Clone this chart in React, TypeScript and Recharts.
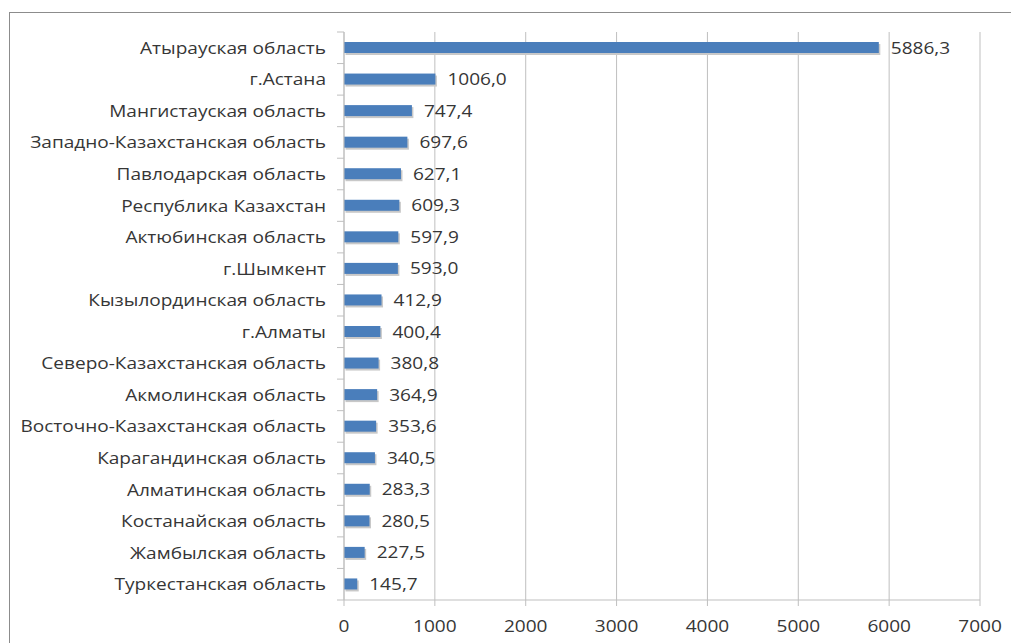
import React from 'react';
import { BarChart, Bar, XAxis, YAxis, CartesianGrid, LabelList } from 'recharts';

const regions = [
  'Атырауская область',
  'г.Астана',
  'Мангистауская область',
  'Западно-Казахстанская область',
  'Павлодарская область',
  'Республика Казахстан',
  'Актюбинская область',
  'г.Шымкент',
  'Кызылординская область',
  'г.Алматы',
  'Северо-Казахстанская область',
  'Акмолинская область',
  'Восточно-Казахстанская область',
  'Карагандинская область',
  'Алматинская область',
  'Костанайская область',
  'Жамбылская область',
  'Туркестанская область',
];

const values = [
  5886.3, 1006.0, 747.4, 697.6, 627.1, 609.3, 597.9, 593.0, 412.9, 400.4,
  380.8, 364.9, 353.6, 340.5, 283.3, 280.5, 227.5, 145.7,
];

const xTicks = [0, 1000, 2000, 3000, 4000, 5000, 6000, 7000];

const data = regions.map((name, i) => ({ name, value: values[i] }));

const FONT = '"Open Sans", sans-serif';
const TEXT = '#363636';
const GRID = '#bfbfbf';
const SX = 1.19;

const BarShape = (props: any) => {
  const { x, y, width, height } = props;
  return (
    <g>
      <rect x={x + 1.5} y={y + 2} width={width} height={height} fill="#c8c8c8" />
      <rect x={x} y={y} width={width} height={height} fill="#4a7ebb" />
    </g>
  );
};

const YTick = (props: any) => {
  const { x, y, payload, index } = props;
  const band = 568 / regions.length;
  return (
    <g>
      <line x1={x + 1} x2={x + 8} y1={y - band / 2} y2={y - band / 2} stroke={GRID} />
      {index === regions.length - 1 && (
        <line x1={x + 1} x2={x + 8} y1={y + band / 2} y2={y + band / 2} stroke={GRID} />
      )}
      <text
        transform={`translate(${x - 10},${y}) scale(${SX},1)`}
        x={0}
        y={0}
        dy={6}
        textAnchor="end"
        fill={TEXT}
        fontFamily={FONT}
        fontSize={16}
      >
        {payload.value}
      </text>
    </g>
  );
};

const XTick = (props: any) => {
  const { x, y, payload } = props;
  return (
    <text
      transform={`translate(${x},${y + 18}) scale(${SX},1)`}
      x={0}
      y={0}
      textAnchor="middle"
      fill={TEXT}
      fontFamily={FONT}
      fontSize={16}
    >
      {payload.value}
    </text>
  );
};

const ValueLabel = (props: any) => {
  const { x, y, width, height, value } = props;
  const tx = x + width + 12;
  const ty = y + height / 2;
  return (
    <text
      transform={`translate(${tx},${ty}) scale(${SX},1)`}
      x={0}
      y={0}
      dy={6}
      textAnchor="start"
      fill={TEXT}
      fontFamily={FONT}
      fontSize={16}
    >
      {Number(value).toFixed(1).replace('.', ',')}
    </text>
  );
};

export default function App() {
  return (
    <div style={{ position: 'absolute', left: 0, top: 0, width: 1011, height: 643, background: '#fff' }}>
      <div
        style={{
          position: 'absolute',
          left: 9,
          top: 12,
          width: 1011,
          height: 640,
          borderLeft: '1.5px solid #8c8c8c',
          borderTop: '1.5px solid #8c8c8c',
        }}
      />
      <div style={{ position: 'absolute', left: 0, top: 0 }}>
        <BarChart
          width={1011}
          height={643}
          data={data}
          layout="vertical"
          margin={{ top: 32, right: 31, bottom: 0, left: 0 }}
          barCategoryGap={0}
        >
          <CartesianGrid horizontal={false} stroke={GRID} />
          <XAxis
            type="number"
            domain={[0, 7000]}
            ticks={xTicks}
            interval={0}
            height={43}
            stroke={GRID}
            tickSize={6}
            tick={<XTick />}
            tickMargin={8}
          />
          <YAxis
            type="category"
            dataKey="name"
            width={344}
            stroke={GRID}
            tickLine={false}
            tick={<YTick />}
            interval={0}
          />
          <Bar dataKey="value" barSize={11} shape={<BarShape />} isAnimationActive={false}>
            <LabelList dataKey="value" content={<ValueLabel />} />
          </Bar>
        </BarChart>
      </div>
    </div>
  );
}
